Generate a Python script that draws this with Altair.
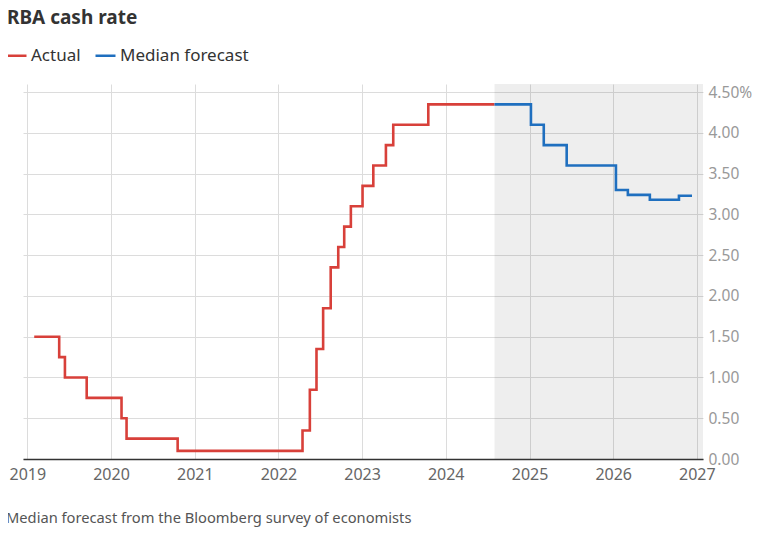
import altair as alt
import pandas as pd

# ---- data ----
actual_dates = ["2019-01-31", "2019-05-20", "2019-06-14", "2019-09-17", "2020-02-16",
                "2020-03-09", "2020-10-18", "2022-04-16", "2022-05-18", "2022-06-16",
                "2022-07-15", "2022-08-17", "2022-09-19", "2022-10-15", "2022-11-13",
                "2023-01-03", "2023-02-19", "2023-04-15", "2023-05-17", "2023-10-17",
                "2024-08-01"]
actual_rates = [1.50, 1.25, 1.00, 0.75, 0.50, 0.25, 0.10, 0.35, 0.85, 1.35,
                1.85, 2.35, 2.60, 2.85, 3.10, 3.35, 3.60, 3.85, 4.10, 4.35, 4.35]

forecast_dates = ["2024-08-01", "2025-01-07", "2025-03-04", "2025-06-12", "2026-01-13",
                  "2026-03-06", "2026-06-10", "2026-10-15", "2026-12-11"]
forecast_rates = [4.35, 4.10, 3.85, 3.60, 3.30, 3.24, 3.18, 3.23, 3.23]

series_names = ["Actual", "Median forecast"]
series_colors = ["#d8403a", "#1f6fbf"]

shade_start = ["2024-08-01"]
shade_end = ["2027-01-28"]

y_ticks = [0, 0.5, 1.0, 1.5, 2.0, 2.5, 3.0, 3.5, 4.0, 4.5]
x_domain = ["2018-12-13", "2027-01-28"]

title_text = "RBA cash rate"
footnote = ["Median forecast from the Bloomberg survey of economists"]

# ---- tables ----
lines_df = pd.concat([
    pd.DataFrame({"date": actual_dates, "rate": actual_rates, "series": series_names[0]}),
    pd.DataFrame({"date": forecast_dates, "rate": forecast_rates, "series": series_names[1]}),
])
shade_df = pd.DataFrame({"start": shade_start, "end": shade_end})
note_df = pd.DataFrame({"text": footnote})

FONT = "Noto Sans"
W, H = 680, 375

x_scale = alt.Scale(domain=x_domain)
y_scale = alt.Scale(domain=[0, 4.6], nice=False, zero=True)

shade = alt.Chart(shade_df).mark_rect(fill="#000000", opacity=0.065).encode(
    x=alt.X("start:T", scale=x_scale),
    x2="end:T",
    y=alt.value(0),
    y2=alt.value(H),
)

lines = alt.Chart(lines_df).mark_line(interpolate="step-after", strokeWidth=2.6).encode(
    x=alt.X("date:T", scale=x_scale, title=None,
            axis=alt.Axis(format="%Y", tickCount={"interval": "year", "step": 1},
                          grid=True, gridColor="#dcdcdc", gridWidth=1,
                          domain=True, domainColor="#333333", domainWidth=1.5,
                          ticks=False, labelPadding=7, labelFontSize=16,
                          labelColor="#666666", labelFont=FONT)),
    y=alt.Y("rate:Q", scale=y_scale, title=None,
            axis=alt.Axis(orient="right", values=y_ticks, grid=True,
                          gridColor="#dcdcdc", gridWidth=1, domain=False, ticks=False,
                          labelPadding=5, labelFontSize=15.5, labelColor="#999999",
                          labelFont=FONT, labelAlign="left",
                          labelExpr="datum.value == 4.5 ? format(datum.value, '.2f') + '%' : format(datum.value, '.2f')")),
    color=alt.Color("series:N",
                    scale=alt.Scale(domain=series_names, range=series_colors),
                    legend=alt.Legend(orient="none", legendX=-18, legendY=-40,
                                      direction="horizontal", title=None,
                                      symbolType="stroke", symbolSize=400,
                                      symbolStrokeWidth=2.5, labelFontSize=17,
                                      labelColor="#333333", labelFont=FONT,
                                      columnPadding=9, padding=0, labelOffset=3,
                                      labelLimit=300)),
)

note = alt.Chart(note_df).mark_text(align="left", baseline="alphabetic", fontSize=14.7,
                                     color="#555555", font=FONT).encode(
    x=alt.value(-17), y=alt.value(H + 64), text="text:N")

chart = alt.layer(shade, lines, note).properties(
    width=W, height=H,
    title=alt.TitleParams(title_text, anchor="start", frame="group", dx=-16,
                          fontSize=19, fontWeight="bold", font=FONT,
                          color="#333333", offset=16),
    autosize=alt.AutoSizeParams(type="none"),
    padding={"left": 15, "top": 76, "right": 49, "bottom": 69},
).configure_view(stroke=None)

chart.save("out.html", embed_options={"renderer": "svg", "actions": False})
